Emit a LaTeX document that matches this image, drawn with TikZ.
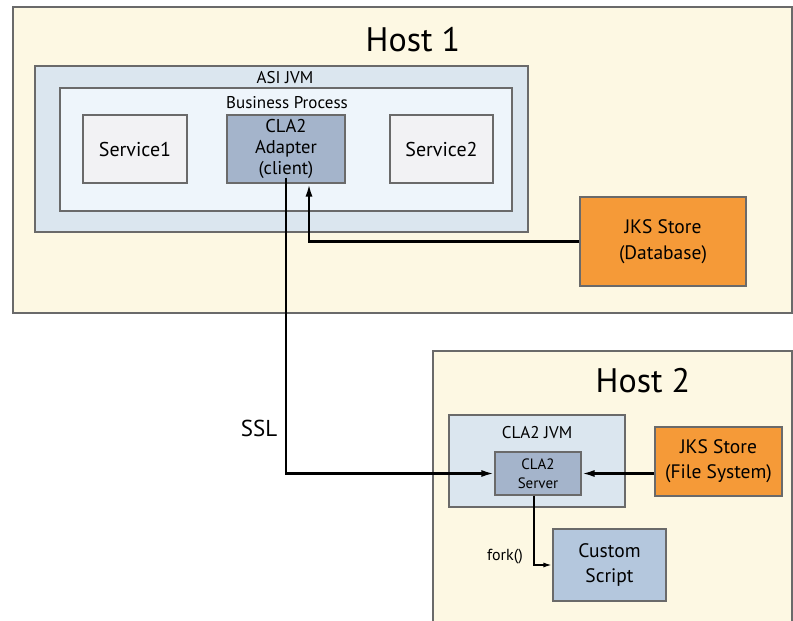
\documentclass[tikz,border=0pt]{standalone}
\usepackage{fontspec}
\setmainfont{PT Sans}
\usetikzlibrary{arrows.meta}

\definecolor{hostbg}{HTML}{FDF8E3}
\definecolor{framegray}{HTML}{6A6A6A}
\definecolor{jvmbg}{HTML}{DBE6EF}
\definecolor{procbg}{HTML}{EEF5FB}
\definecolor{servbg}{HTML}{F2F2F4}
\definecolor{adaptbg}{HTML}{A4B4CB}
\definecolor{storebg}{HTML}{F59A38}
\definecolor{scriptbg}{HTML}{B4C7DD}

\begin{document}
\begin{tikzpicture}[x=1pt,y=-1pt,
    box/.style={draw=framegray,line width=1.2pt,rectangle,inner sep=0pt,align=center},
    conn/.style={line width=2.4pt,-{Latex[length=13pt,width=7pt]}},
    small conn/.style={line width=1.8pt,-{Latex[length=9pt,width=5pt]}}]
    \clip (0,0) rectangle (793,621);
    \fill[white] (0,0) rectangle (793,621);

    % host 1
    \node[box,fill=hostbg,minimum width=779pt,minimum height=306pt] (host1) at (402.5,160) {};
    \node[font=\fontsize{34}{40}\selectfont] (host1label) at (413,40) {Host 1};
    \node[box,fill=jvmbg,minimum width=493pt,minimum height=166pt] (asijvm) at (281.5,149) {};
    \node[font=\fontsize{17}{20}\selectfont] (asilabel) at (285,78) {ASI JVM};
    \node[box,fill=procbg,minimum width=452pt,minimum height=123pt] (process) at (286,149.5) {};
    \node[font=\fontsize{17}{20}\selectfont] (proclabel) at (287,103) {Business Process};
    \node[box,fill=servbg,minimum width=104pt,minimum height=68pt,font=\fontsize{20}{24}\selectfont] (service1) at (135,149) {Service1};
    \node[box,fill=adaptbg,minimum width=118pt,minimum height=68pt,font=\fontsize{18.5}{21}\selectfont] (adapter) at (286,149) {CLA2\\Adapter\\(client)};
    \node[box,fill=servbg,minimum width=103pt,minimum height=68pt,font=\fontsize{20}{24}\selectfont] (service2) at (441.5,149) {Service2};
    \node[box,fill=storebg,minimum width=166pt,minimum height=89pt,font=\fontsize{19.5}{26}\selectfont] (jksdb) at (663,241.5) {JKS Store\\(Database)};

    % host 2
    \node[box,fill=hostbg,minimum width=359pt,minimum height=300pt] (host2) at (612.5,501) {};
    \node[font=\fontsize{34}{40}\selectfont] (host2label) at (643,381) {Host 2};
    \node[box,fill=jvmbg,minimum width=176pt,minimum height=92pt] (clajvm) at (537,461) {};
    \node[font=\fontsize{17}{20}\selectfont] (clalabel) at (537,433) {CLA2 JVM};
    \node[box,fill=adaptbg,minimum width=86pt,minimum height=43pt,font=\fontsize{15}{19}\selectfont] (server) at (538,473.5) {CLA2\\Server};
    \node[box,fill=storebg,minimum width=127pt,minimum height=69pt,font=\fontsize{19.5}{25}\selectfont] (jksfs) at (718.5,461.5) {JKS Store\\(File System)};
    \node[box,fill=scriptbg,minimum width=113pt,minimum height=72pt,font=\fontsize{19.5}{25}\selectfont] (script) at (609.5,565) {Custom\\Script};

    % arrows
    \draw[conn] (jksdb.west) -| ([xshift=23pt]adapter.south);
    \draw[conn] ([yshift=6pt]adapter.south) |- (server.west);
    \draw[conn] (jksfs.west |- server.east) -- (server.east);
    \draw[small conn] ([xshift=-4pt]server.south) |- (script.west);
    \node[font=\fontsize{23}{27}\selectfont] (ssl) at (259,428) {SSL};
    \node[font=\fontsize{16}{19}\selectfont] (fork) at (505,557) {fork()};
\end{tikzpicture}
\end{document}
